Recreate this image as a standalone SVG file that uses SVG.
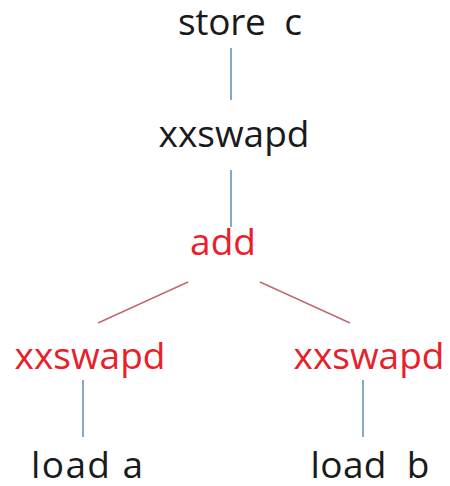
<svg xmlns="http://www.w3.org/2000/svg" width="450" height="486" viewBox="0 0 450 486">
<style>
text{font-family:"Open Sans","Noto Sans",sans-serif;font-size:37px;text-anchor:middle;white-space:pre}
.k{fill:#1a1a1a}
.r{fill:#e8202a}
.b{stroke:#5b8db5;stroke-width:1.5}
.rl{stroke:#c06a6e;stroke-width:1.5}
</style>
<rect width="450" height="486" fill="#ffffff"/>
<g id="connectors">
<line class="b" x1="231" y1="48" x2="231" y2="100"/>
<line class="b" x1="231" y1="170" x2="231" y2="227"/>
<line class="rl" x1="188" y1="282" x2="98" y2="323"/>
<line class="rl" x1="260" y1="282" x2="350" y2="323"/>
<line class="b" x1="83" y1="380" x2="83" y2="437"/>
<line class="b" x1="363" y1="380" x2="363" y2="437"/>
</g>
<g id="store"><text class="k" x="240" y="35" xml:space="preserve" textLength="124" lengthAdjust="spacing">store  c</text></g>
<g id="swap_top"><text class="k" x="234" y="147">xxswapd</text></g>
<g id="add"><text class="r" x="223" y="255">add</text></g>
<g id="swap_left"><text class="r" x="90" y="369">xxswapd</text></g>
<g id="swap_right"><text class="r" x="369" y="369">xxswapd</text></g>
<g id="load_a"><text class="k" x="87" y="478" xml:space="preserve" textLength="112" lengthAdjust="spacing">load a</text></g>
<g id="load_b"><text class="k" x="370" y="478" xml:space="preserve" textLength="119" lengthAdjust="spacing">load  b</text></g>
</svg>
